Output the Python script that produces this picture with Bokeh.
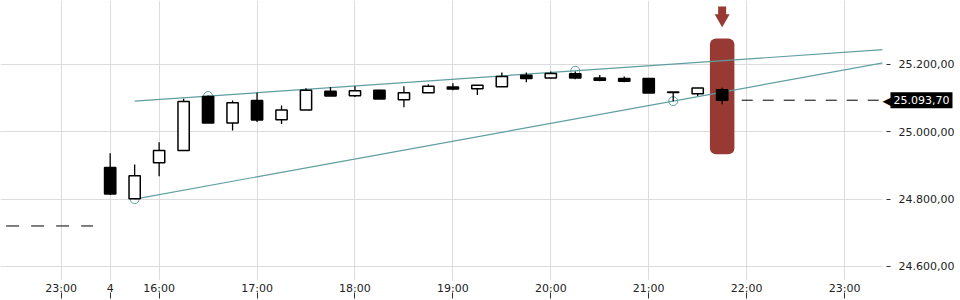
from bokeh.plotting import figure
from bokeh.models import Range1d, FixedTicker, BoxAnnotation, Label, ColumnDataSource, LinearAxis
from bokeh.embed import file_html
from bokeh.resources import INLINE

# ---- data (15-minute candles, gapped index axis) ----
bar_index = list(range(2, 28))
opens = [24894, 24801, 24908, 24944, 25105, 25026, 25093, 25036, 25065, 25120, 25107, 25123, 25095,
         25116, 25133, 25128, 25134, 25168, 25160, 25172, 25160, 25158, 25158, 25118, 25113, 25125]
highs = [24936, 24903, 24969, 25098, 25108, 25093, 25116, 25078, 25129, 25133, 25135, 25125, 25135,
         25141, 25144, 25138, 25176, 25176, 25179, 25179, 25169, 25164, 25158, 25118, 25130, 25131]
lows = [24813, 24800, 24868, 24944, 25026, 25004, 25029, 25023, 25065, 25106, 25103, 25097, 25073,
        25116, 25123, 25109, 25134, 25147, 25158, 25156, 25150, 25147, 25115, 25091, 25106, 25082]
closes = [24815, 24869, 24944, 25090, 25026, 25086, 25035, 25065, 25123, 25106, 25122, 25097, 25116,
          25135, 25127, 25138, 25164, 25158, 25173, 25160, 25153, 25150, 25115, 25117, 25130, 25093.7]

x_tick_pos = [0, 2, 4, 8, 12, 16, 20, 24, 28, 32]
x_tick_labels = ["23:00", "4", "16:00", "17:00", "18:00", "19:00", "20:00", "21:00", "22:00", "23:00"]
y_tick_vals = [24600, 24800, 25000, 25200]
y_tick_labels = ["24.600,00", "24.800,00", "25.000,00", "25.200,00"]

prev_close = 24720
prev_span = [-2.25, 1.3]
last_price = 25093.70
last_label = "25.093,70"

upper_px = [6, 21]
upper_py = [25106, 25181]
lower_px = [3, 25]
lower_py = [24800, 25091]

signal_index = 27
signal_top = 25277
signal_bottom = 24933

# ---- figure ----
X0, X1 = -2.48, 33.55
p = figure(width=960, height=300, x_range=Range1d(X0, X1), y_range=Range1d(24558, 25390),
           y_axis_location="right", output_backend="svg", toolbar_location=None,
           min_border_left=0, min_border_top=0, min_border_right=74, min_border_bottom=20)
p.outline_line_color = None
p.background_fill_color = "white"

TEAL = "#5f9ea0"
RED = "#983a34"
FONT = "DejaVu Sans"

xa = p.xaxis[0]
xa.ticker = FixedTicker(ticks=x_tick_pos)
xa.major_label_overrides = dict(zip(x_tick_pos, x_tick_labels))
xa.axis_line_color = None
xa.minor_tick_line_color = None
xa.major_tick_in = -12
xa.major_tick_out = 18
xa.major_label_standoff = -17
xa.major_tick_line_color = "#333333"
xa.major_label_text_font = FONT
xa.major_label_text_font_size = "11px"
xa.major_label_text_color = "#222222"

# last-price tag (lives in the right side panel so it is not clipped to the frame)
ptr = Label(x=X1, y=last_price, x_offset=0, text="◀", text_color="black", text_font=FONT,
            text_font_size="16px", text_baseline="middle", text_align="left")
tag = Label(x=X1, y=last_price, x_offset=8, text=last_label, text_color="white", text_font=FONT,
            text_font_size="11px", text_baseline="middle", text_align="left",
            background_fill_color="black", padding=(3, 4))
S = 74  # width taken by the two tag panels

# price axis: one axis draws the small tick marks, the other the labels
y_ticker = FixedTicker(ticks=y_tick_vals)
ya_ticks = LinearAxis(ticker=y_ticker, major_label_overrides={v: "" for v in y_tick_vals},
                      axis_line_color=None, minor_tick_line_color=None,
                      major_tick_in=-8, major_tick_out=4, minor_tick_in=0, minor_tick_out=0,
                      major_label_standoff=-4, major_tick_line_color="#333333",
                      major_label_text_font_size="11px")

ya = p.yaxis[0]
ya.ticker = y_ticker
ya.major_label_overrides = dict(zip(y_tick_vals, y_tick_labels))
ya.axis_line_color = None
ya.minor_tick_line_color = None
ya.major_tick_line_color = None
ya.major_tick_in = 0
ya.major_tick_out = 0
ya.minor_tick_in = 0
ya.minor_tick_out = 0
ya.major_label_standoff = 12 - S
ya.major_label_text_font = FONT
ya.major_label_text_font_size = "11px"
ya.major_label_text_color = "#222222"
p.right = [ya_ticks, ptr, tag, ya]

p.xgrid.grid_line_color = "#dcdcdc"
p.ygrid.grid_line_color = "#dcdcdc"

# highlight box of the signal bar
box = BoxAnnotation(left=signal_index - 0.5, right=signal_index + 0.5, top=signal_top, bottom=signal_bottom,
                    fill_color=RED, fill_alpha=1.0, line_color=None, border_radius=6, level="underlay")
p.add_layout(box)

# trend lines through pivots, extended to the right edge
def line_pts(px, py, x_start, x_end):
    slope = (py[1] - py[0]) / (px[1] - px[0])
    return [x_start, x_end], [py[0] + slope * (x_start - px[0]), py[0] + slope * (x_end - px[0])]

ux, uy = line_pts(upper_px, upper_py, 3, 35)
lx, ly = line_pts(lower_px, lower_py, 3, 35)
p.line(ux, uy, line_color=TEAL, line_width=1.2)
p.line(lx, ly, line_color=TEAL, line_width=1.2)
p.scatter(upper_px + lower_px, upper_py + lower_py, marker="circle", size=9,
          fill_color=None, line_color=TEAL, line_width=1)

# previous close and last price dashed lines
p.line(prev_span, [prev_close, prev_close], line_color="black", line_width=1, line_dash="13 12")
p.line([signal_index + 0.8, X1 - 0.05], [last_price, last_price], line_color="black", line_width=1,
       line_dash="11 10")

# candles
src = ColumnDataSource(dict(
    x=bar_index, high=highs, low=lows,
    top=[max(o, c) for o, c in zip(opens, closes)],
    bottom=[min(o, c) for o, c in zip(opens, closes)],
    fill=["white" if c >= o else "black" for o, c in zip(opens, closes)],
))
p.segment(x0="x", y0="high", x1="x", y1="low", source=src, line_color="black", line_width=1.3)
p.vbar(x="x", top="top", bottom="bottom", width=0.46, fill_color="fill", line_color="black",
       line_width=1.5, source=src)

# signal arrow above highlight
p.rect(x=[signal_index], y=[25353], width=8, height=13, width_units="screen", height_units="screen",
       fill_color=RED, line_color=None)
p.scatter(x=[signal_index], y=[25336], marker="inverted_triangle", size=15, fill_color=RED, line_color=None)

open("out.html", "w").write(file_html(p, INLINE))
